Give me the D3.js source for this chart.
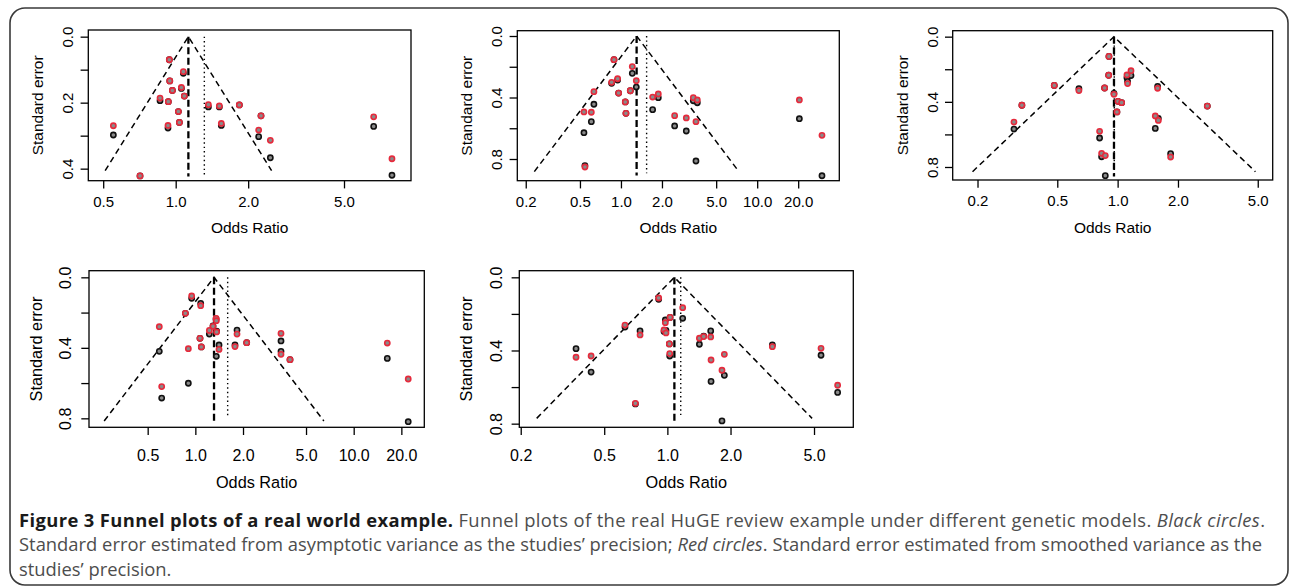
<!DOCTYPE html>
<html>
<head>
<meta charset="utf-8">
<script src="https://cdn.jsdelivr.net/npm/d3@7"></script>
<style>
  body { margin: 0; background: #fff; }
  svg { display: block; }
</style>
</head>
<body>
<svg id="fig" width="1290" height="587"></svg>
<script>
// ---- data: odds ratio + standard error per study ----
// panel 1
const or1 = [0.551, 0.711, 0.861, 0.929, 0.932, 0.941, 0.945, 0.969, 1.026, 1.036, 1.056, 1.076, 1.086, 1.367, 1.518, 1.547, 1.838, 2.261, 2.211, 2.472, 6.64, 7.91];
const seRed1 = [0.270, 0.422, 0.186, 0.269, 0.197, 0.070, 0.134, 0.163, 0.227, 0.260, 0.154, 0.106, 0.180, 0.206, 0.210, 0.263, 0.207, 0.240, 0.283, 0.314, 0.243, 0.370];
const seBlack1 = [0.298, 0.422, 0.194, 0.277, 0.197, 0.070, 0.134, 0.163, 0.227, 0.260, 0.157, 0.111, 0.180, 0.213, 0.213, 0.269, 0.207, 0.240, 0.303, 0.367, 0.272, 0.420];
// panel 2
const or2 = [0.535, 0.606, 0.633, 0.544, 0.889, 0.854, 0.945, 0.961, 1.076, 1.088, 1.171, 1.211, 1.296, 1.708, 1.880, 2.478, 3.017, 3.397, 3.635, 3.553, 20.4, 29.9];
const seRed2 = [0.494, 0.496, 0.362, 0.852, 0.154, 0.301, 0.278, 0.371, 0.429, 0.503, 0.356, 0.199, 0.291, 0.397, 0.377, 0.518, 0.533, 0.401, 0.416, 0.557, 0.416, 0.646];
const seBlack2 = [0.629, 0.557, 0.444, 0.843, 0.154, 0.308, 0.286, 0.371, 0.429, 0.503, 0.356, 0.243, 0.332, 0.479, 0.401, 0.585, 0.618, 0.421, 0.434, 0.813, 0.538, 0.909];
// panel 3
const or3 = [0.304, 0.333, 0.483, 0.641, 0.861, 0.813, 0.832, 0.868, 0.905, 0.902, 0.959, 1.004, 1.047, 0.992, 1.113, 1.121, 1.166, 1.583, 1.541, 1.596, 1.838, 2.801];
const seRed3 = [0.524, 0.421, 0.299, 0.331, 0.315, 0.581, 0.716, 0.730, 0.121, 0.237, 0.354, 0.397, 0.405, 0.462, 0.235, 0.288, 0.209, 0.317, 0.487, 0.514, 0.739, 0.426];
const seBlack3 = [0.567, 0.421, 0.299, 0.319, 0.315, 0.622, 0.737, 0.853, 0.121, 0.237, 0.348, 0.397, 0.405, 0.462, 0.252, 0.274, 0.239, 0.305, 0.563, 0.501, 0.718, 0.426];
// panel 4
const or4 = [0.592, 0.613, 0.903, 0.865, 0.948, 1.081, 1.070, 1.091, 1.226, 1.293, 1.352, 1.357, 1.362, 1.411, 1.833, 1.780, 2.110, 3.475, 3.475, 3.961, 16.3, 22.1];
const seRed4 = [0.280, 0.620, 0.405, 0.204, 0.106, 0.161, 0.346, 0.395, 0.301, 0.278, 0.233, 0.246, 0.310, 0.409, 0.322, 0.393, 0.371, 0.318, 0.437, 0.467, 0.373, 0.577];
const seBlack4 = [0.420, 0.685, 0.601, 0.204, 0.119, 0.148, 0.346, 0.395, 0.322, 0.276, 0.236, 0.448, 0.306, 0.384, 0.299, 0.384, 0.371, 0.361, 0.420, 0.467, 0.460, 0.819];
// panel 5
const or5 = [0.367, 0.433, 0.628, 0.741, 0.704, 0.909, 1.030, 0.978, 0.964, 0.985, 1.022, 1.026, 1.183, 1.421, 1.490, 1.609, 1.615, 1.869, 1.821, 3.165, 5.40, 6.48];
const seRed5 = [0.437, 0.430, 0.261, 0.315, 0.689, 0.113, 0.219, 0.248, 0.288, 0.304, 0.364, 0.417, 0.166, 0.333, 0.324, 0.326, 0.452, 0.421, 0.508, 0.379, 0.388, 0.590];
const seBlack5 = [0.390, 0.518, 0.272, 0.293, 0.692, 0.120, 0.219, 0.233, 0.296, 0.290, 0.364, 0.430, 0.224, 0.366, 0.321, 0.293, 0.569, 0.536, 0.785, 0.370, 0.426, 0.629];

// pooled estimate (dashed), second estimate (dotted), funnel depth, line depth
const pooledOR = [1.129, 1.303, 0.959, 1.312, 1.080];
const dottedOR = [1.315, 1.543, 0.962, 1.600, 1.158];
const funnelSe = [0.406, 0.882, 0.829, 0.815, 0.771];
const dashSe = [0.424, 0.908, 0.859, 0.819, 0.789];
const dotSe = [0.424, 0.893, 0.859, 0.790, 0.762];

// axis ticks
const xTicks1 = [0.5, 1, 2, 5];
const xTicks2 = [0.2, 0.5, 1, 2, 5, 10, 20];
const xTicks3 = [0.2, 0.5, 1, 2, 5];
const xTicks4 = [0.5, 1, 2, 5, 10, 20];
const xTicks5 = [0.2, 0.5, 1, 2, 5];
const yTicksA = [0, 0.1, 0.2, 0.3, 0.4];
const yLabelsA = [0, 0.2, 0.4];
const yTicksB = [0, 0.2, 0.4, 0.6, 0.8];
const yLabelsB = [0, 0.4, 0.8];

const RED = '#e62a3c', GREY = '#8a8a8a';
const FONT = '"Liberation Sans", Arial, Helvetica, sans-serif';

// layout of each plot box in the page
const rows = [
  {tickFs: 15, titleFs: 15.5, xTickOff: 21, xTitleOff: 47, yTickOff: 20.5, yTitleOff: 50.5},
  {tickFs: 16, titleFs: 16.3, xTickOff: 27.7, xTitleOff: 54.4, yTickOff: 23.5, yTitleOff: 53}
];
const panels = [
  {or: or1, seR: seRed1, seB: seBlack1, xTicks: xTicks1, yTicks: yTicksA, yLabels: yLabelsA,
   box: [88.3, 30, 411, 180.7], xlim: [0.4336, 9.488], ylim: [-0.0202, 0.4365], row: 0},
  {or: or2, seR: seRed2, seB: seBlack2, xTicks: xTicks2, yTicks: yTicksB, yLabels: yLabelsB,
   box: [517.3, 30.7, 839.3, 180.7], xlim: [0.1734, 40.07], ylim: [-0.0345, 0.9411], row: 0},
  {or: or3, seR: seRed3, seB: seBlack3, xTicks: xTicks3, yTicks: yTicksB, yLabels: yLabelsB,
   box: [952.7, 30.7, 1272.7, 180], xlim: [0.1504, 5.937], ylim: [-0.0366, 0.8798], row: 0},
  {or: or4, seR: seRed4, seB: seBlack4, xTicks: xTicks4, yTicks: yTicksB, yLabels: yLabelsB,
   box: [89, 270.7, 424.3, 427.3], xlim: [0.2130, 27.92], ylim: [-0.0376, 0.8509], row: 1},
  {or: or5, seR: seRed5, seB: seBlack5, xTicks: xTicks5, yTicks: yTicksB, yLabels: yLabelsB,
   box: [519.3, 270.7, 853.3, 427.3], xlim: [0.1969, 7.695], ylim: [-0.0362, 0.8199], row: 1}
];

const svg = d3.select('#fig');

// outer frame
svg.append('rect')
  .attr('x', 10).attr('y', 8).attr('width', 1278).attr('height', 577)
  .attr('rx', 15).attr('fill', 'none').attr('stroke', '#3a3a3a').attr('stroke-width', 1.6);

panels.forEach(function(p, i) {
  const st = rows[p.row];
  const [x0, y0, x1, y1] = p.box;
  const x = d3.scaleLog().domain(p.xlim).range([x0, x1]);
  const y = d3.scaleLinear().domain(p.ylim).range([y0, y1]);
  const g = svg.append('g');

  // x axis
  g.append('g')
    .attr('transform', 'translate(0,' + y1 + ')')
    .call(d3.axisBottom(x).tickValues(p.xTicks).tickFormat(d3.format('.1f')).tickSize(7.7).tickSizeOuter(0))
    .attr('font-family', FONT).attr('font-size', st.tickFs)
    .call(a => a.select('.domain').remove())
    .call(a => a.selectAll('line').attr('stroke', '#000').attr('stroke-width', 1.3))
    .call(a => a.selectAll('text').attr('y', st.xTickOff).attr('dy', '0.36em').attr('fill', '#000'));

  // y axis, labels parallel to the axis
  g.append('g')
    .attr('transform', 'translate(' + x0 + ',0)')
    .call(d3.axisLeft(y).tickValues(p.yTicks).tickSize(7.7).tickSizeOuter(0)
      .tickFormat(d => p.yLabels.indexOf(d) > -1 ? d.toFixed(1) : ''))
    .attr('font-family', FONT).attr('font-size', st.tickFs)
    .call(a => a.select('.domain').remove())
    .call(a => a.selectAll('line').attr('stroke', '#000').attr('stroke-width', 1.3))
    .call(a => a.selectAll('text')
      .attr('x', 0).attr('dy', '0.36em').attr('fill', '#000')
      .attr('text-anchor', 'middle')
      .attr('transform', 'translate(' + (-st.yTickOff) + ',0) rotate(-90)'));

  // axis titles
  g.append('text')
    .attr('x', (x0 + x1) / 2).attr('y', y1 + st.xTitleOff).attr('dy', '0.36em')
    .attr('text-anchor', 'middle').attr('font-family', FONT).attr('font-size', st.titleFs)
    .text('Odds Ratio');
  g.append('text')
    .attr('transform', 'translate(' + (x0 - st.yTitleOff) + ',' + ((y0 + y1) / 2) + ') rotate(-90)')
    .attr('dy', '0.36em')
    .attr('text-anchor', 'middle').attr('font-family', FONT).attr('font-size', st.titleFs)
    .text('Standard error');

  // funnel
  const fun = [
    {or: pooledOR[i] * Math.exp(-1.96 * funnelSe[i]), se: funnelSe[i]},
    {or: pooledOR[i], se: 0},
    {or: pooledOR[i] * Math.exp(1.96 * funnelSe[i]), se: funnelSe[i]}
  ];
  const line = d3.line().x(d => x(d.or)).y(d => y(d.se));
  g.append('path').attr('d', line(fun))
    .attr('fill', 'none').attr('stroke', '#000').attr('stroke-width', 1.5)
    .attr('stroke-dasharray', '6,4');
  g.append('path').attr('d', line([{or: dottedOR[i], se: 0}, {or: dottedOR[i], se: dotSe[i]}]))
    .attr('fill', 'none').attr('stroke', '#000').attr('stroke-width', 1.4)
    .attr('stroke-dasharray', '1.4,3');
  g.append('path').attr('d', line([{or: pooledOR[i], se: 0}, {or: pooledOR[i], se: dashSe[i]}]))
    .attr('fill', 'none').attr('stroke', '#000').attr('stroke-width', 2.3)
    .attr('stroke-dasharray', '7,3.5');

  // studies: asymptotic se (black) first, smoothed se (red) on top
  g.selectAll('.blk').data(p.or).enter().append('circle')
    .attr('class', 'blk')
    .attr('cx', d => x(d)).attr('cy', (d, k) => y(p.seB[k])).attr('r', 2.6)
    .attr('fill', GREY).attr('stroke', '#111').attr('stroke-width', 1.6);
  g.selectAll('.red').data(p.or).enter().append('circle')
    .attr('class', 'red')
    .attr('cx', d => x(d)).attr('cy', (d, k) => y(p.seR[k])).attr('r', 2.6)
    .attr('fill', GREY).attr('stroke', RED).attr('stroke-width', 1.6);

  // plot frame
  g.append('rect').attr('x', x0).attr('y', y0).attr('width', x1 - x0).attr('height', y1 - y0)
    .attr('fill', 'none').attr('stroke', '#000').attr('stroke-width', 1.3);
});

// caption
const capLines = [
  [{t: 'Figure 3 Funnel plots of a real world example.', b: 1},
   {t: ' Funnel plots of the real HuGE review example under different genetic models. '},
   {t: 'Black circles', i: 1}, {t: '.'}],
  [{t: 'Standard error estimated from asymptotic variance as the studies\u2019 precision; '},
   {t: 'Red circles', i: 1}, {t: '. Standard error estimated from smoothed variance as the'}],
  [{t: 'studies\u2019 precision.'}]
];
const capY = [527, 551.5, 576];
const capWidth = [1246, 1243];
const capFs = 17.5;
const capG = svg.append('g');
const capTexts = capLines.map(function(parts, k) {
  const t = capG.append('text').attr('x', 0).attr('y', capY[k])
    .attr('font-family', '"Open Sans", "Noto Sans", sans-serif').attr('font-size', capFs);
  parts.forEach(function(s) {
    t.append('tspan').text(s.t)
      .attr('font-weight', s.b ? 700 : 400)
      .attr('font-style', s.i ? 'italic' : 'normal')
      .attr('fill', s.b ? '#1a1a1a' : '#4d4d4d');
  });
  return t;
});
// the original face is narrower than Open Sans: squeeze horizontally to fit
const sx = d3.min(capWidth, (w, k) => w / capTexts[k].node().getComputedTextLength());
capG.attr('transform', 'translate(19,0) scale(' + sx + ',1)');
// then even out the two full lines with a little extra letter spacing
capWidth.forEach(function(w, k) {
  capTexts[k].attr('textLength', w / sx).attr('lengthAdjust', 'spacing');
});
</script>
</body>
</html>
